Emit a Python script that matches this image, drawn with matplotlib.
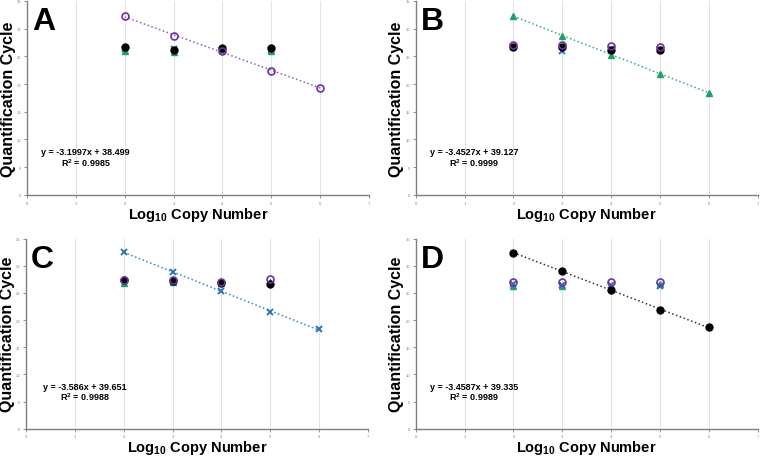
import numpy as np
import matplotlib
matplotlib.use('Agg')
import matplotlib.pyplot as plt

plt.rcParams['font.family'] = ['Liberation Sans', 'DejaVu Sans']
plt.rcParams['mathtext.fontset'] = 'custom'
plt.rcParams['mathtext.rm'] = 'Liberation Sans:bold'
plt.rcParams['mathtext.bf'] = 'Liberation Sans:bold'

# Log10 copy number
x_std = [2, 3, 4, 5, 6]
x_ntc = [2, 3, 4, 5]

panels = ['A', 'B', 'C', 'D']

# Cq values
purple = {
    'A': [32.2, 28.6, 25.9, 22.4, 19.3],
    'B': [27.0, 27.0, 26.9, 26.6],
    'C': [27.4, 27.4, 27.0, 27.5],
    'D': [27.1, 27.1, 27.1, 27.1],
}
green = {
    'A': [26.0, 25.8, 26.1, 26.0],
    'B': [32.2, 28.7, 25.2, 21.8, 18.4],
    'C': [26.8, 27.1, 26.9, 27.0],
    'D': [26.2, 26.2, 26.0, 26.6],
}
blue = {
    'A': [26.3, 26.4, 26.1, 26.2],
    'B': [26.7, 25.9, 26.3, 26.2],
    'C': [32.6, 28.8, 25.3, 21.4, 18.3],
    'D': [26.6, 26.4, 26.5, 26.2],
}
black = {
    'A': [26.7, 26.1, 26.5, 26.5],
    'B': [26.6, 26.7, 26.2, 26.1],
    'C': [27.3, 27.2, 26.8, 26.7],
    'D': [32.4, 29.0, 25.6, 21.8, 18.7],
}

slopes = {'A': -3.1997, 'B': -3.4527, 'C': -3.586, 'D': -3.4587}
intercepts = {'A': 38.499, 'B': 39.127, 'C': 39.651, 'D': 39.335}
r2 = {'A': '0.9985', 'B': '0.9999', 'C': '0.9988', 'D': '0.9989'}
eq_text = {'A': 'y = -3.1997x + 38.499', 'B': 'y = -3.4527x + 39.127',
           'C': 'y = -3.586x + 39.651', 'D': 'y = -3.4587x + 39.335'}

c_purple = '#7030A0'
c_green = '#1FA06A'
c_blue = '#2E75B6'
c_black = '#000000'
line_col = {'A': '#8E5CC4', 'B': '#33B36F', 'C': '#3D85C6', 'D': '#333333'}

fig = plt.figure(figsize=(7.6, 4.6), dpi=100)
positions = {
    'A': [0.0355, 0.574, 0.45, 0.422],
    'B': [0.547, 0.574, 0.45, 0.422],
    'C': [0.0342, 0.066, 0.45, 0.413],
    'D': [0.547, 0.066, 0.45, 0.413],
}

for p in panels:
    ax = fig.add_axes(positions[p])

    def xs(vals):
        return x_std if len(vals) == 5 else x_ntc

    # trendline for the standard series
    xl = np.array([2, 6])
    ax.plot(xl, slopes[p] * xl + intercepts[p], ls=':', lw=1.1,
            color=line_col[p], zorder=2)

    ax.plot(xs(green[p]), green[p], ls='none', marker='^', ms=4.5,
            mfc=c_green, mec=c_green, zorder=3)
    ax.plot(xs(blue[p]), blue[p], ls='none', marker='x', ms=4.5, mew=1.4,
            color=c_blue, zorder=4)
    ax.plot(xs(black[p]), black[p], ls='none', marker='o', ms=5,
            color=c_black, zorder=4)
    ax.plot(xs(purple[p]), purple[p], ls='none', marker='o', ms=5, mew=1.2,
            mfc='none', mec=c_purple, zorder=5)

    ax.set_xlim(0, 7)
    ax.set_ylim(0, 35)
    ax.set_xticks(range(0, 8))
    ax.set_yticks(range(0, 36, 5))
    ax.tick_params(labelsize=3, colors='#808080', length=2, width=0.6, pad=2)
    ax.xaxis.grid(True, color='#E3E3E3', lw=0.8)
    ax.set_axisbelow(True)
    for s in ['top', 'right']:
        ax.spines[s].set_visible(False)
    for s in ['left', 'bottom']:
        ax.spines[s].set_color('#7F7F7F')
        ax.spines[s].set_linewidth(1.0)

    ax.set_ylabel('Quantification Cycle', fontsize=11.5, fontweight='bold',
                  labelpad=1)
    ax.set_xlabel(r'Log$_{10}$ Copy Number', fontsize=10.5, fontweight='bold',
                  labelpad=0)

    ax.text(0.1, 31.3, p, fontsize=23, fontweight='bold', ha='left',
            va='center')
    ax.text(1.2, 7.8, eq_text[p], fontsize=6.5, fontweight='bold',
            ha='center', va='center')
    ax.text(1.2, 6.0, 'R$^2$ = ' + r2[p], fontsize=6.5, fontweight='bold',
            ha='center', va='center')

fig.savefig('out.png', dpi=100)
